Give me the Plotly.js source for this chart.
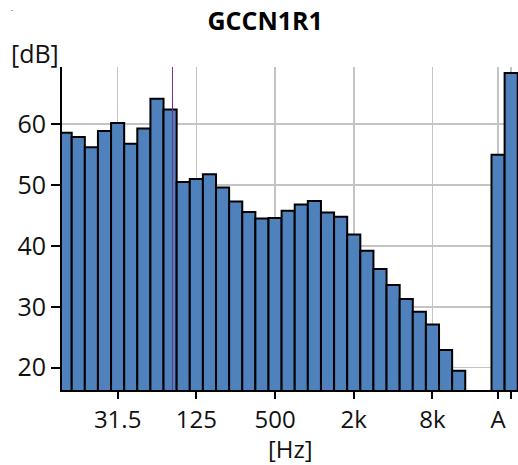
<!DOCTYPE html>
<html>
<head>
<meta charset="utf-8">
<script src="https://cdn.plot.ly/plotly-3.0.1.min.js"></script>
<style>
  html, body { margin: 0; padding: 0; background: #fff; }
  #chart { width: 518px; height: 465px; }
</style>
</head>
<body>
<div id="chart"></div>
<script>
// Third-octave bands (Hz)
const bands = ['12.5','16','20','25','31.5','40','50','63','80','100','125','160','200','250','315','400','500','630','800','1k','1.25k','1.6k','2k','2.5k','3.15k','4k','5k','6.3k','8k','10k','12.5k'];
// Band levels (dB)
const levels = [58.6,57.9,56.2,58.9,60.2,56.8,59.3,64.2,62.4,50.5,51.0,51.8,49.6,47.3,45.6,44.5,44.6,45.8,46.8,47.4,45.5,44.8,41.9,39.2,36.2,33.6,31.3,29.2,27.1,22.9,19.5];
// Overall levels
const totalLabels = ['A', ''];
const totalLevels = [55.0, 68.4];
// Labelled band ticks
const tickBands = ['31.5','125','500','2k','8k'];
// Y ticks
const yTicks = [20, 30, 40, 50, 60];
// Vertical marker (in band-index units)
const markerBand = 8.18;

const gap = 2;
const bandX = bands.map((b, i) => i);
const totalX = totalLabels.map((t, i) => bands.length + gap + i);

const xs = bandX.concat(totalX);
const ys = levels.concat(totalLevels);
const names = bands.concat(totalLabels.map((t, i) => t || 'Total ' + (i + 1)));

const tickvals = tickBands.map(b => bands.indexOf(b)).concat(totalX);
const ticktext = tickBands.concat(totalLabels);

const FONT = 'Open Sans, Noto Sans, Liberation Sans, sans-serif';
const FS = 25;

const trace = {
  type: 'bar',
  x: xs,
  y: ys,
  text: names,
  hoverinfo: 'text+y',
  textposition: 'none',
  width: 1,
  marker: { color: '#4f81bd', line: { color: '#000000', width: 2 } }
};

const layout = {
  width: 518,
  height: 465,
  paper_bgcolor: '#ffffff',
  plot_bgcolor: '#ffffff',
  margin: { l: 62, r: 0, t: 67, b: 75 },
  showlegend: false,
  bargap: 0,
  font: { family: FONT, size: FS, color: '#111111' },
  title: {
    text: 'GCCN1R1',
    font: { family: FONT, size: 25, weight: 'bold', color: '#000000' },
    xref: 'container', x: 0.512, xanchor: 'center',
    yref: 'container', y: 0.955, yanchor: 'middle'
  },
  xaxis: {
    type: 'linear',
    range: [-0.24, 34.52],
    tickmode: 'array',
    tickvals: tickvals,
    ticktext: ticktext,
    ticks: 'outside',
    ticklen: 7,
    tickwidth: 2,
    tickcolor: '#000000',
    showline: true,
    linecolor: '#000000',
    linewidth: 2,
    showgrid: true,
    gridcolor: '#c4c4c4',
    gridwidth: 1.5,
    zeroline: false,
    tickfont: { family: FONT, size: 24, color: '#111111' }
  },
  yaxis: {
    range: [16.34, 69.4],
    tickmode: 'array',
    tickvals: yTicks,
    ticktext: yTicks.map(String),
    ticks: 'outside',
    ticklen: 9,
    tickwidth: 2,
    tickcolor: '#000000',
    showline: true,
    linecolor: '#000000',
    linewidth: 2,
    showgrid: true,
    gridcolor: '#c4c4c4',
    gridwidth: 1.5,
    zeroline: false,
    tickfont: { family: FONT, size: FS, color: '#111111' }
  },
  shapes: [{
    type: 'line', xref: 'x', yref: 'paper',
    x0: markerBand, x1: markerBand, y0: 0, y1: 1,
    line: { color: '#7a2a8a', width: 1 },
    layer: 'above'
  }],
  annotations: [
    {
      text: '[dB]', showarrow: false,
      xref: 'paper', yref: 'paper',
      x: -0.0603, y: 1.043, xanchor: 'center', yanchor: 'middle',
      font: { family: FONT, size: FS, color: '#111111' }
    },
    {
      text: '[Hz]', showarrow: false,
      xref: 'paper', yref: 'paper',
      x: 0.5, y: -0.1796, xanchor: 'center', yanchor: 'middle',
      borderpad: 0,
      font: { family: FONT, size: 24, color: '#111111' }
    },
    {
      text: '.', showarrow: false,
      xref: 'paper', yref: 'paper',
      x: -0.109, y: 1.205, xanchor: 'center', yanchor: 'top',
      borderpad: 0,
      font: { family: FONT, size: 8, color: '#000000' }
    }
  ]
};

Plotly.newPlot('chart', [trace], layout, { displayModeBar: false, staticPlot: true });
</script>
</body>
</html>
